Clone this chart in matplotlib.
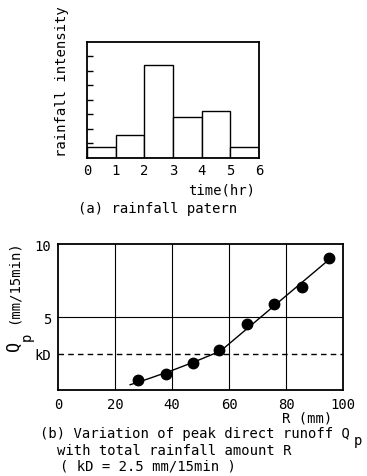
import matplotlib
matplotlib.use("Agg")
import matplotlib.pyplot as plt

plt.rcParams["font.family"] = ["DejaVu Sans Mono"]

# (a) rainfall pattern
hours = [0, 1, 2, 3, 4, 5]
intensity = [0.75, 1.6, 6.4, 2.85, 3.2, 0.75]
hour_ticks = [0, 1, 2, 3, 4, 5, 6]

# (b) peak direct runoff vs total rainfall
rain_R = [28, 38, 47.3, 56.5, 66.2, 75.8, 85.5, 95.2]
peak_Q = [0.67, 1.13, 1.86, 2.78, 4.5, 5.87, 7.09, 9.08]
curve_R = [25.3, 32, 40, 48, 57, 96]
curve_Q = [0.37, 0.8, 1.35, 1.95, 2.68, 9.1]
kD = 2.5
R_ticks = [0, 20, 40, 60, 80, 100]

fig = plt.figure(figsize=(3.67, 4.77), dpi=100)

# ---- top chart
ax1 = fig.add_axes([0.237, 0.667, 0.469, 0.243])
ax1.bar(hours, intensity, width=1, align="edge", color="white",
        edgecolor="black", linewidth=1.0)
ax1.set_xlim(0, 6)
ax1.set_ylim(0, 8)
ax1.set_xticks(hour_ticks)
ax1.set_yticks(range(1, 8))
ax1.set_yticklabels([])
ax1.tick_params(axis="x", length=0, labelsize=10, pad=4)
ax1.tick_params(axis="y", direction="in", length=4, width=1)
for s in ax1.spines.values():
    s.set_linewidth(1.3)

fig.text(62 / 367, 1 - 82 / 477, "rainfall intensity", rotation=90,
         ha="center", va="center", fontsize=10)
fig.text(222 / 367, 1 - 190 / 477, "time(hr)", ha="center", va="center",
         fontsize=10)
fig.text(158 / 367, 1 - 209 / 477, "(a) rainfall patern", ha="center",
         va="center", fontsize=10)

# ---- bottom chart
ax2 = fig.add_axes([0.158, 0.180, 0.777, 0.306])
ax2.set_xlim(0, 100)
ax2.set_ylim(0, 10)
for r in R_ticks[1:-1]:
    ax2.axvline(r, color="black", linewidth=0.8)
ax2.axhline(5, color="black", linewidth=0.8)
ax2.axhline(kD, color="black", linewidth=1.0, linestyle=(0, (4, 3)))
ax2.plot(curve_R, curve_Q, color="black", linewidth=1.0)
ax2.plot(rain_R, peak_Q, "o", color="black", markersize=7.5)
ax2.set_xticks(R_ticks)
ax2.set_yticks([kD, 5, 10])
ax2.set_yticklabels(["kD", "5", "10"])
ax2.tick_params(length=0, labelsize=10, pad=5)
for s in ax2.spines.values():
    s.set_linewidth(1.3)

fig.text(14 / 367, 1 - 346 / 477, "Q", rotation=90, ha="center",
         va="center", fontsize=12)
fig.text(27 / 367, 1 - 337 / 477, "p", rotation=90, ha="center",
         va="center", fontsize=10)
fig.text(14 / 367, 1 - 282 / 477, "(mm/15min)", rotation=90, ha="center",
         va="center", fontsize=10)

fig.text(307 / 367, 1 - 419 / 477, "R (mm)", ha="center", va="center",
         fontsize=10)
fig.text(40 / 367, 1 - 434 / 477, "(b) Variation of peak direct runoff Q",
         ha="left", va="center", fontsize=10)
fig.text(358 / 367, 1 - 441 / 477, "p", ha="center", va="center",
         fontsize=10)
fig.text(57 / 367, 1 - 451 / 477, "with total rainfall amount R",
         ha="left", va="center", fontsize=10)
fig.text(60 / 367, 1 - 467 / 477, "( kD = 2.5 mm/15min )",
         ha="left", va="center", fontsize=10)

fig.savefig("out.png", dpi=100)
